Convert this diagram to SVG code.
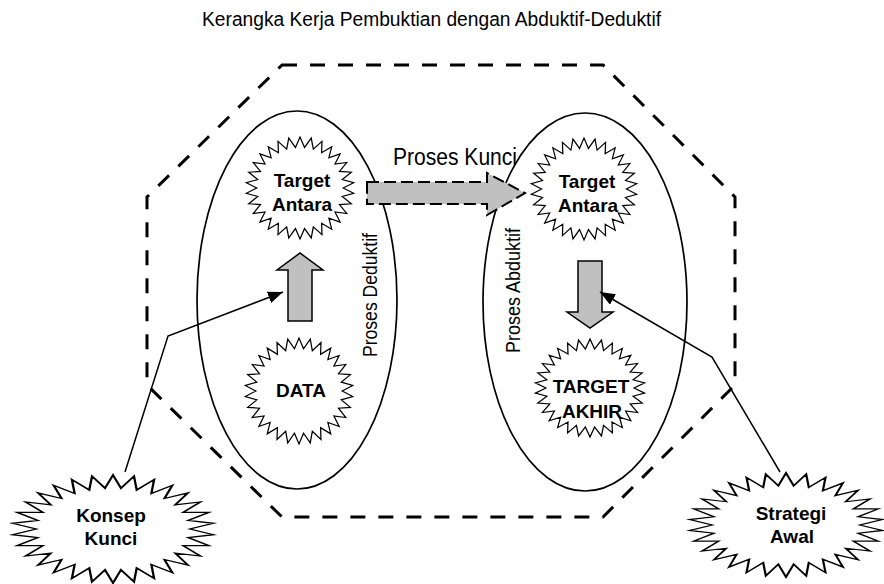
<svg xmlns="http://www.w3.org/2000/svg" xmlns:xlink="http://www.w3.org/1999/xlink" width="884" height="584" viewBox="0 0 884 584">
<style>
.title{font-family:"Liberation Sans",Arial,sans-serif;font-size:20px;fill:#000}
.lbl{font-family:"Liberation Sans",Arial,sans-serif;font-size:23px;fill:#000}
.vlbl{font-family:"Liberation Sans",Arial,sans-serif;font-size:20px;fill:#000}
.bold{font-family:"Liberation Sans",Arial,sans-serif;font-size:19px;font-weight:bold;fill:#000;text-anchor:middle}
.star{fill:#fff;stroke:#000;stroke-width:2.3;vector-effect:non-scaling-stroke;stroke-linejoin:miter}
.oval{fill:none;stroke:#000;stroke-width:1.7}
.frame{fill:none;stroke:#000;stroke-width:3;stroke-dasharray:15 13}
.block{fill:#c0c0c0;stroke:#000;stroke-width:1.5}
.dblock{fill:#c0c0c0;stroke:#000;stroke-width:2;stroke-dasharray:12 5}
.conn{fill:none;stroke:#000;stroke-width:1.5}
</style>
<defs>
<polygon id="burst" points="80,0 99.5,10.5 78.2,16.6 95.1,30.9 73.1,32.5 86.6,50 64.7,47 74.3,66.9 53.5,59.4 58.8,80.9 40,69.3 40.7,91.4 24.7,76.1 20.8,97.8 8.4,79.6 0,100 -8.4,79.6 -20.8,97.8 -24.7,76.1 -40.7,91.4 -40,69.3 -58.8,80.9 -53.5,59.4 -74.3,66.9 -64.7,47 -86.6,50 -73.1,32.5 -95.1,30.9 -78.2,16.6 -99.5,10.5 -80,0 -99.5,-10.5 -78.2,-16.6 -95.1,-30.9 -73.1,-32.5 -86.6,-50 -64.7,-47 -74.3,-66.9 -53.5,-59.4 -58.8,-80.9 -40,-69.3 -40.7,-91.4 -24.7,-76.1 -20.8,-97.8 -8.4,-79.6 0,-100 8.4,-79.6 20.8,-97.8 24.7,-76.1 40.7,-91.4 40,-69.3 58.8,-80.9 53.5,-59.4 74.3,-66.9 64.7,-47 86.6,-50 73.1,-32.5 95.1,-30.9 78.2,-16.6 99.5,-10.5"/>
<polygon id="burst2" points="76,0 99.5,10.5 74.3,15.8 95.1,30.9 69.4,30.9 86.6,50 61.5,44.7 74.3,66.9 50.9,56.5 58.8,80.9 38,65.8 40.7,91.4 23.5,72.3 20.8,97.8 7.9,75.6 0,100 -7.9,75.6 -20.8,97.8 -23.5,72.3 -40.7,91.4 -38,65.8 -58.8,80.9 -50.9,56.5 -74.3,66.9 -61.5,44.7 -86.6,50 -69.4,30.9 -95.1,30.9 -74.3,15.8 -99.5,10.5 -76,0 -99.5,-10.5 -74.3,-15.8 -95.1,-30.9 -69.4,-30.9 -86.6,-50 -61.5,-44.7 -74.3,-66.9 -50.9,-56.5 -58.8,-80.9 -38,-65.8 -40.7,-91.4 -23.5,-72.3 -20.8,-97.8 -7.9,-75.6 0,-100 7.9,-75.6 20.8,-97.8 23.5,-72.3 40.7,-91.4 38,-65.8 58.8,-80.9 50.9,-56.5 74.3,-66.9 61.5,-44.7 86.6,-50 69.4,-30.9 95.1,-30.9 74.3,-15.8 99.5,-10.5"/>
<marker id="ah" markerUnits="userSpaceOnUse" markerWidth="16" markerHeight="14" refX="15" refY="6" orient="auto">
<path d="M0,0 L15,6 L0,12 Z" fill="#000"/>
</marker>
</defs>
<rect width="884" height="584" fill="#fff"/>
<text class="title" x="202" y="26" textLength="459" lengthAdjust="spacingAndGlyphs">Kerangka Kerja Pembuktian dengan Abduktif-Deduktif</text>
<g id="frame">
<path class="frame" d="M282,65 L603,65 L735,197 L735,385 L603,517 L282,517 L147,385 L147,197 Z"/>
</g>
<g id="deductive-group">
<ellipse class="oval" cx="297" cy="300" rx="100" ry="189"/>
<text class="vlbl" transform="translate(377,357) rotate(-90)" textLength="124" lengthAdjust="spacingAndGlyphs">Proses Deduktif</text>
</g>
<g id="abductive-group">
<ellipse class="oval" cx="585" cy="302" rx="102" ry="189"/>
<text class="vlbl" transform="translate(520,353) rotate(-90)" textLength="125" lengthAdjust="spacingAndGlyphs">Proses Abduktif</text>
</g>
<g id="target-antara-1">
<use xlink:href="#burst" class="star" transform="translate(300,188) scale(0.54,0.51)"/>
<text class="bold" x="302" y="187">Target</text>
<text class="bold" x="302" y="211">Antara</text>
</g>
<g id="data">
<use xlink:href="#burst" class="star" transform="translate(299,391) scale(0.54,0.53)"/>
<text class="bold" x="301" y="397">DATA</text>
</g>
<g id="target-antara-2">
<use xlink:href="#burst" class="star" transform="translate(584,189) scale(0.53,0.51)"/>
<text class="bold" x="587" y="188">Target</text>
<text class="bold" x="588" y="212">Antara</text>
</g>
<g id="target-akhir">
<use xlink:href="#burst" class="star" transform="translate(590,388) scale(0.55,0.49)"/>
<text class="bold" x="591" y="393">TARGET</text>
<text class="bold" x="592" y="418">AKHIR</text>
</g>
<g id="konsep-kunci">
<use xlink:href="#burst2" class="star" transform="translate(113,529) scale(1.01,0.54)"/>
<text class="bold" x="111" y="522">Konsep</text>
<text class="bold" x="111" y="545">Kunci</text>
</g>
<g id="strategi-awal">
<use xlink:href="#burst2" class="star" transform="translate(786,525) scale(0.97,0.52)"/>
<text class="bold" x="791" y="520">Strategi</text>
<text class="bold" x="792" y="543">Awal</text>
</g>
<g id="connectors">
<polygon class="dblock" points="367,182 487,182 487,173 525,193 487,215 487,204 367,204"/>
<text class="lbl" x="393" y="165" textLength="124" lengthAdjust="spacingAndGlyphs">Proses Kunci</text>
<polygon class="block" points="288,321 288,270 277,270 300,253 323,270 312,270 312,321"/>
<polygon class="block" points="578,261 602,261 602,312 613,312 590,328 567,312 578,312"/>
<polyline class="conn" points="125,472 168,336 283,292" marker-end="url(#ah)"/>
<polyline class="conn" points="780,472 712,357 600,292" marker-end="url(#ah)"/>
</g>
</svg>
